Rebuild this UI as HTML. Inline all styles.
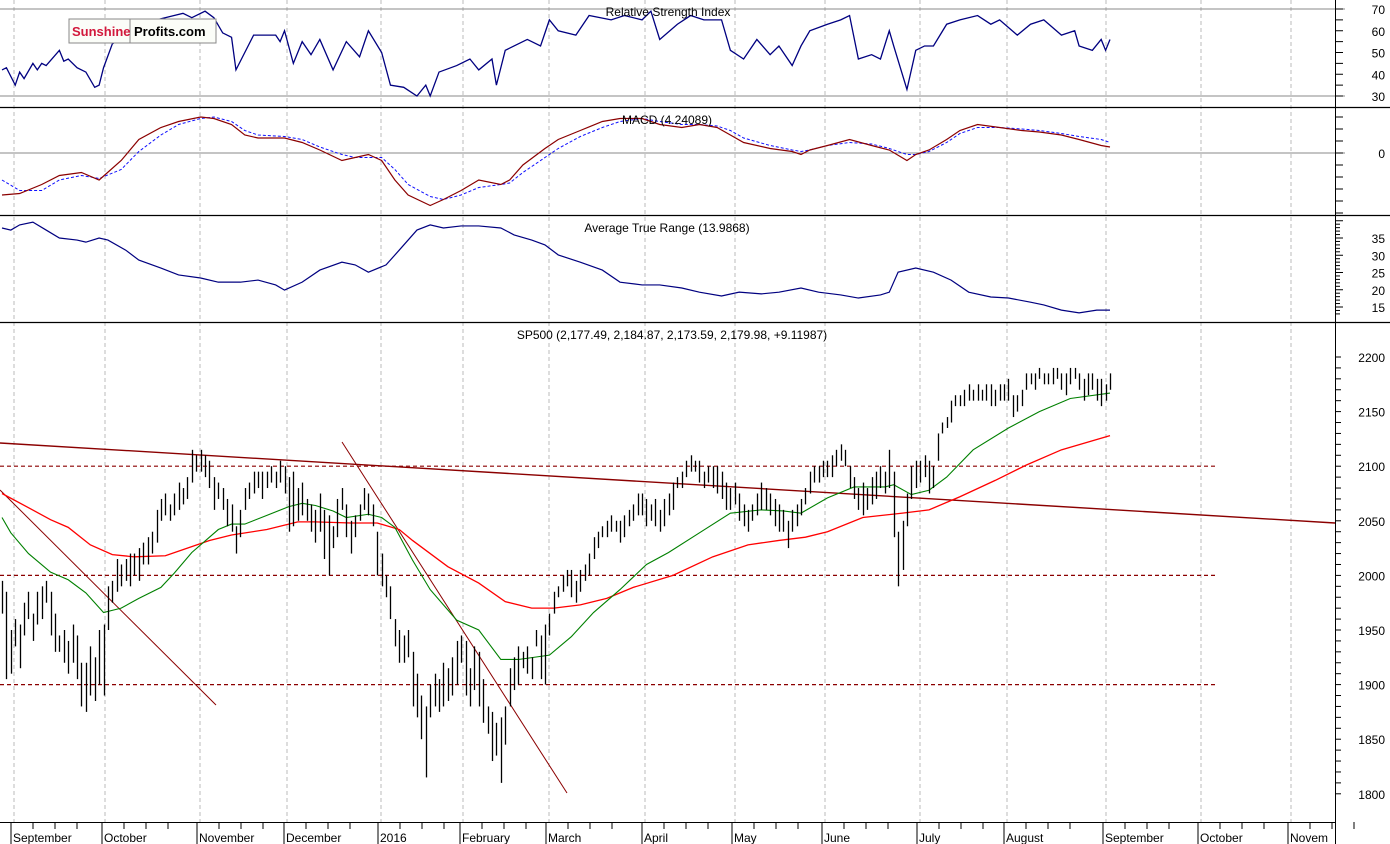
<!DOCTYPE html>
<html><head><meta charset="utf-8"><style>
html,body{margin:0;padding:0;background:#fff;}
svg{display:block;font-family:"Liberation Sans",Arial,sans-serif;}
</style></head><body>
<svg id="c" width="1390" height="844" xmlns="http://www.w3.org/2000/svg">
<rect width="1390" height="844" fill="#fff"/>
<g id="grid"></g>
<g id="rsi"></g>
<g id="macd"></g>
<g id="atr"></g>
<g id="main"></g>
<g id="axes"></g>
<g>
<rect x="69" y="19" width="147" height="24" fill="#fbfdf8" stroke="#888"/>
<line x1="130" y1="19" x2="130" y2="43" stroke="#888"/>
<text x="72" y="36" font-size="13" font-weight="bold" fill="#d2193c">Sunshine</text>
<text x="134" y="36" font-size="13" font-weight="bold" fill="#000">Profits.com</text>
</g>
</svg>
<script>
// ---- data ----
const priceHigh=[1995,1985,1950,1960,1955,1975,1985,1965,1985,1990,1995,1985,1965,1945,1950,1940,1955,1945,1920,1920,1935,1925,
1950,1955,1990,1995,2015,2010,2015,2020,2020,2025,2030,2035,2040,2060,2070,2075,2065,2075,2085,2080,2090,
2115,2110,2115,2110,2105,2090,2085,2080,2070,2065,2045,2060,2080,2085,2095,2095,2095,2095,2100,2095,
2105,2100,2090,2095,2080,2085,2070,2065,2060,2075,2060,2055,2045,2070,2080,2065,2050,2055,2065,2080,2075,2065,
2040,2020,2000,1990,1960,1950,1945,1950,1930,1910,1890,1880,1900,1910,1905,1920,1915,1925,1940,
1945,1940,1915,1935,1930,1905,1880,1875,1865,1870,1880,1915,1925,1935,1930,1935,1925,1950,1945,1955,
1965,1985,1990,2000,2005,2005,1995,2005,2010,2020,2035,2040,2045,2050,2055,2050,2050,2055,2060,2065,2075,
2075,2070,2065,2070,2060,2070,2075,2085,2090,2095,2105,2110,2105,2105,2095,2100,2100,2100,2095,2085,2080,
2085,2075,2065,2060,2065,2075,2085,2080,2075,2070,2065,2060,2050,2060,2065,2070,2080,2095,2100,2100,
2105,2105,2110,2115,2120,2115,2100,2090,2080,2085,2080,2090,2095,2100,2095,2115,2095,2040,2050,2075,2100,2105,
2105,2110,2105,2100,2130,2140,2145,2160,2165,2165,2170,2175,2170,2175,2170,2175,2175,2170,2175,2175,
2180,2165,2165,2170,2185,2185,2185,2190,2185,2185,2190,2190,2185,2185,2190,2190,2185,2180,2185,2185,2180,2180,2175,2185];
const priceLow=[1965,1905,1910,1935,1915,1945,1960,1940,1955,1960,1975,1945,1930,1930,1920,1910,1920,1905,1880,1875,1890,1885,
1900,1890,1950,1975,1985,1990,1995,1990,2000,1995,2010,2010,2020,2030,2050,2055,2050,2055,2060,2065,2070,
2085,2095,2095,2090,2080,2060,2070,2060,2045,2040,2020,2035,2060,2070,2075,2080,2070,2080,2085,2080,
2085,2075,2040,2045,2050,2055,2050,2040,2030,2040,2015,2000,2025,2035,2060,2035,2020,2035,2050,2060,2055,2045,
2000,1990,1980,1960,1935,1920,1920,1925,1880,1870,1850,1815,1870,1880,1875,1880,1885,1890,1900,
1920,1890,1880,1895,1880,1865,1855,1830,1835,1810,1845,1880,1895,1900,1915,1910,1905,1935,1905,1900,
1945,1965,1980,1985,1990,1980,1975,1985,1995,2000,2015,2025,2035,2035,2040,2040,2030,2035,2045,2050,2055,
2055,2045,2050,2045,2040,2045,2055,2060,2080,2080,2090,2095,2095,2085,2080,2085,2080,2075,2070,2060,2060,
2065,2050,2045,2040,2050,2055,2060,2060,2055,2045,2040,2040,2025,2040,2045,2055,2065,2075,2085,2085,
2090,2090,2090,2100,2105,2100,2080,2070,2060,2055,2060,2065,2070,2080,2075,2080,2035,1990,2005,2045,2070,2080,
2085,2090,2075,2080,2105,2130,2135,2140,2155,2155,2155,2160,2160,2160,2160,2160,2155,2155,2160,2160,
2160,2145,2150,2155,2170,2175,2170,2180,2175,2175,2175,2180,2170,2165,2175,2180,2170,2160,2165,2170,2160,2155,2160,2170];
const ma20Days=[0,2,6,11,15,19,23,27,31,36,39,43,49,52,55,60,65,68,71,75,78,83,86,89,93,97,103,108,113,117,124,129,134,140,146,151,158,165,172,177,181,187,193,200,202,206,210,214,220,228,235,242,251];
const ma20Vals=[2053,2039,2020,2003,1996,1984,1966,1970,1979,1989,2002,2021,2042,2047,2047,2055,2063,2066,2064,2059,2053,2056,2053,2044,2014,1987,1959,1950,1923,1923,1927,1944,1966,1987,2010,2021,2039,2057,2060,2059,2057,2071,2081,2081,2083,2074,2078,2090,2115,2135,2150,2162,2167];
const ma50Days=[0,6,11,15,20,25,30,37,42,47,52,60,67,71,79,85,90,93,101,108,114,120,125,131,137,143,152,161,169,176,182,187,195,204,210,217,225,232,240,251];
const ma50Vals=[2075,2062,2051,2044,2028,2019,2017,2018,2025,2032,2037,2042,2049,2049,2048,2048,2042,2032,2008,1993,1976,1970,1970,1973,1979,1989,2000,2017,2028,2032,2035,2040,2053,2057,2060,2072,2087,2101,2115,2128];
const rsiDays=[0,1,3,4,5,7,8,9,10,13,14,15,17,19,21,22,23,25,30,35,39,41,43,46,48,50,52,53,55,57,59,62,63,64,66,68,70,72,75,78,81,83,86,88,91,94,96,97,99,103,106,108,111,112,114,116,119,122,124,126,130,133,138,141,145,147,149,153,156,159,163,165,168,171,174,176,179,181,183,187,190,192,194,197,199,201,202,205,207,209,211,214,217,221,224,226,230,233,236,240,243,244,247,249,250,251];
const rsiVals=[42,43,35,41,38,45,42,45,44,51,46,47,43,41,34,35,43,54,60,65,67,68,66,69,66,59,57,42,50,58,58,58,55,60,45,55,49,56,42,55,48,60,50,35,34,30,35,30,41,44,47,42,47,35,51,53,56,53,65,60,58,67,65,67,65,69,56,63,67,65,65,51,47,56,49,53,44,53,60,63,65,67,47,49,47,60,53,33,51,53,53,63,65,67,63,65,58,63,65,58,60,53,51,56,51,56];
const macdDays=[0,4,9,13,18,22,27,31,36,40,45,48,52,55,58,64,68,72,77,80,83,86,89,92,97,100,104,108,113,115,118,123,126,131,136,140,145,149,154,158,162,165,168,174,179,181,183,187,192,197,201,205,207,210,214,217,221,226,231,235,240,244,249,251];
const macdVals=[-28,-27,-21,-15,-13,-18,-5,9,17,21,24,23,19,12,10,10,7,2,-5,-3,-1,-5,-18,-28,-35,-31,-25,-18,-21,-18,-8,3,9,15,21,23,23,19,17,19,17,12,7,3,1,-1,2,5,9,5,2,-5,-1,2,9,15,19,17,15,14,12,9,5,4];
const signalVals=[-18,-25,-25,-18,-15,-17,-11,1,12,19,23,24,21,15,12,11,9,4,-1,-3,-3,-3,-11,-21,-29,-31,-28,-23,-21,-20,-13,-3,3,11,17,21,23,21,19,19,18,15,10,5,2,1,2,5,7,6,3,-1,-1,1,7,13,17,17,16,15,13,11,9,7];
const atrDays=[0,2,4,7,10,13,17,19,22,24,28,31,36,40,45,49,54,58,62,64,68,72,77,80,83,87,90,94,97,100,104,108,113,116,120,123,126,131,136,140,145,149,154,158,163,167,172,176,181,185,190,194,199,201,203,207,211,215,219,224,228,233,236,240,244,248,251];
const atrVals=[37.9,37.3,38.8,39.6,37.3,35,34.4,33.8,35,34.4,31.5,28.6,26.3,24.3,23.4,22.2,22.2,22.8,21.4,19.9,22.2,25.7,28,27.2,25.1,27.2,31.5,37.3,38.8,37.9,38.5,38.5,37.9,35.9,34.4,33,30.1,28,25.7,22.2,21.4,21.4,20.5,19.3,18.2,19.3,18.8,19.3,20.5,19.3,18.5,17.6,18.5,19.3,25.1,26.3,25.1,22.8,19.3,17.9,17.6,16.4,15.6,14.1,13.3,14.1,14.1];
const priceTicks=[2200,2150,2100,2050,2000,1950,1900,1850,1800];
const rsiTicks=[70,60,50,40,30];
const atrTicks=[35,30,25,20,15];
const supportLevels=[2100,2000,1900];
const monthLabels=["September","October","November","December","2016","February","March","April","May","June","July","August","September","October","Novem"];
const monthX=[14,105,200,287,381,463,549,645,735,825,920,1007,1106,1201,1291];

// ---- scales ----
const NS="http://www.w3.org/2000/svg";
const N=priceHigh.length;
const xB=i=>2+i*(1108/(N-1));
const yP=p=>357+(2200-p)*1.092;
const yR=v=>9+(70-v)*2.175;
const yM=v=>153-v*1.5;
const yA=v=>307-(v-15)*3.45;
function mk(tag,attrs,parent){const e=document.createElementNS(NS,tag);for(const k in attrs)e.setAttribute(k,attrs[k]);parent.appendChild(e);return e;}
function txt(x,y,s,parent,size,anchor){const t=mk('text',{x:x,y:y,'font-size':size||12,'text-anchor':anchor||'start',fill:'#000'},parent);t.textContent=s;return t;}
const G=id=>document.getElementById(id);

// grid
const grid=G('grid');
monthX.forEach(x=>{const l=mk('line',{x1:x,y1:0,x2:x,y2:822,stroke:'#bbb','stroke-dasharray':'4,3'},grid);

});

// RSI
const rsi=G('rsi');
[70,30].forEach(v=>{const l=mk('line',{x1:0,y1:yR(v),x2:1345,y2:yR(v),stroke:'#888'},rsi);

});
let rl=mk('polyline',{points:rsiDays.map((d,i)=>xB(d)+','+yR(rsiVals[i])).join(' '),fill:'none',stroke:'#000080','stroke-width':1.3},rsi);


txt(668,16,'Relative Strength Index',rsi,12,'middle');
rsiTicks.forEach(v=>{const t=txt(1385,yR(v)+5,String(v),rsi,12,'end');

});

// MACD
const macd=G('macd');
mk('line',{x1:0,y1:153,x2:1345,y2:153,stroke:'#888'},macd);
let sl=mk('polyline',{points:macdDays.map((d,i)=>xB(d)+','+yM(signalVals[i])).join(' '),fill:'none',stroke:'#1010ff','stroke-width':1,'stroke-dasharray':'3,2'},macd);


let ml=mk('polyline',{points:macdDays.map((d,i)=>xB(d)+','+yM(macdVals[i])).join(' '),fill:'none',stroke:'#8b0000','stroke-width':1.2},macd);


txt(667,124,'MACD (4.24089)',macd,12,'middle');
txt(1385,158,'0',macd,12,'end');

// ATR
const atr=G('atr');
let al=mk('polyline',{points:atrDays.map((d,i)=>xB(d)+','+yA(atrVals[i])).join(' '),fill:'none',stroke:'#000080','stroke-width':1.2},atr);


txt(667,232,'Average True Range (13.9868)',atr,12,'middle');
atrTicks.forEach(v=>{const t=txt(1385,yA(v)+5,String(v),atr,12,'end');

});

// Main
const main=G('main');
supportLevels.forEach(v=>{const l=mk('line',{x1:0,y1:yP(v),x2:1215,y2:yP(v),stroke:'#8b0000','stroke-width':1.2,'stroke-dasharray':'4,3'},main);

});
let t1=mk('line',{x1:0,y1:443,x2:1335,y2:523,stroke:'#8b0000','stroke-width':1.4},main);


let t2=mk('line',{x1:0,y1:490,x2:216,y2:705,stroke:'#8b0000','stroke-width':1},main);


let t3=mk('line',{x1:342,y1:442,x2:567,y2:793,stroke:'#8b0000','stroke-width':1},main);


let m50=mk('polyline',{points:ma50Days.map((d,i)=>xB(d)+','+yP(ma50Vals[i])).join(' '),fill:'none',stroke:'#ff0000','stroke-width':1.3},main);


let m20=mk('polyline',{points:ma20Days.map((d,i)=>xB(d)+','+yP(ma20Vals[i])).join(' '),fill:'none',stroke:'#008000','stroke-width':1.1},main);


for(let i=0;i<N;i++){
  const x=Math.round(xB(i))+0.5;
  const b=mk('line',{x1:x,y1:yP(priceHigh[i]),x2:x,y2:yP(priceLow[i]),stroke:'#000','stroke-width':1.3},main);
  
  
}
txt(672,339,'SP500 (2,177.49, 2,184.87, 2,173.59, 2,179.98, +9.11987)',main,12,'middle');
priceTicks.forEach(v=>{const t=txt(1385,yP(v)+5,String(v),main,12,'end');

});

// axes & separators
const ax=G('axes');
[107,215,322].forEach(y=>{const l=mk('line',{x1:0,y1:y+0.5,x2:1390,y2:y+0.5,stroke:'#000','stroke-width':1.2},ax);

});
mk('line',{x1:1335.5,y1:0,x2:1335.5,y2:844,stroke:'#000'},ax);
mk('line',{x1:0,y1:822.5,x2:1335,y2:822.5,stroke:'#000'},ax);
for(let y=357;y<=800;y+=10.92){mk('line',{x1:1335,y1:y,x2:1341,y2:y,stroke:'#000'},ax);}
for(let v=30;v<=70;v+=5){mk('line',{x1:1335,y1:yR(v),x2:1343,y2:yR(v),stroke:'#000'},ax);}
for(let v=13;v<=40;v++){mk('line',{x1:1335,y1:yA(v),x2:(v%5?1340:1343),y2:yA(v),stroke:'#000'},ax);}
for(let y=117;y<=213;y+=12){mk('line',{x1:1335,y1:y,x2:1343,y2:y,stroke:'#000'},ax);}
monthX.forEach((x,i)=>{
  mk('line',{x1:x-3,y1:822,x2:x-3,y2:844,stroke:'#000'},ax);
  for(let k=1;k<4;k++){mk('line',{x1:x-3+k*22,y1:822,x2:x-3+k*22,y2:829,stroke:'#000'},ax);}
  const t=txt(x-1,842,monthLabels[i],ax,12,'start');
  
  
});
</script>
</body></html>
